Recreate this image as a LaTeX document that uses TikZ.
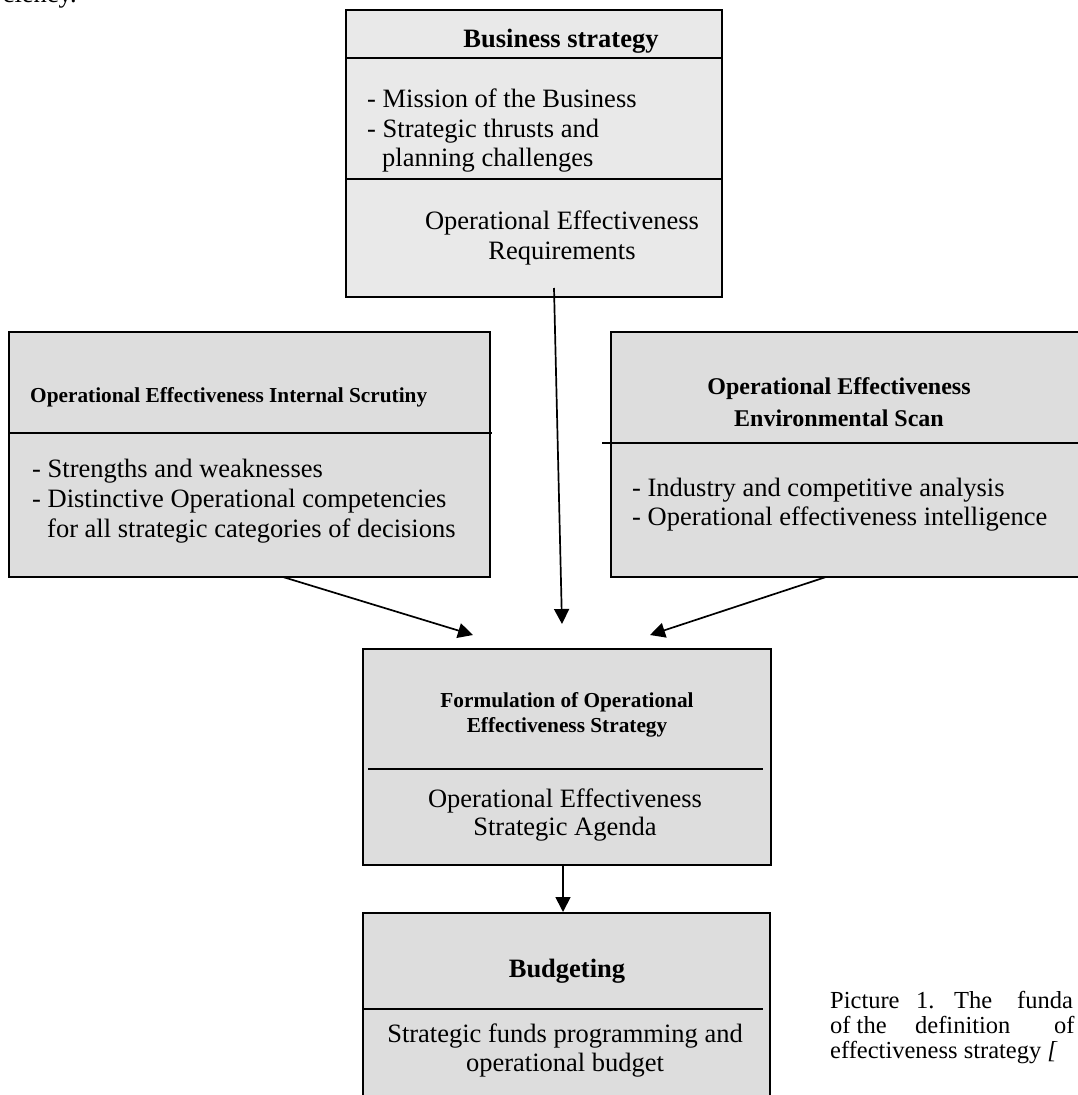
\documentclass[tikz,border=0pt]{standalone}
\usepackage{fontspec}
\setmainfont{Liberation Serif}
\usetikzlibrary{arrows.meta}

\definecolor{boxgray}{HTML}{DDDDDD}
\definecolor{topgray}{HTML}{E9E9E9}

\begin{document}
\begin{tikzpicture}[x=1pt,y=-1pt,
  panel/.style={draw=black, line width=1.8pt, fill=boxgray, inner sep=0pt, outer sep=0pt, anchor=north west},
  rule/.style={line width=1.5pt},
  flow/.style={line width=1.7pt, -{Triangle[length=15pt,width=15pt]}},
  body/.style={font=\fontsize{26.5}{30}\selectfont, inner sep=0pt},
  head/.style={font=\fontsize{26.5}{30}\selectfont\bfseries, inner sep=0pt},
  midhead/.style={font=\fontsize{24}{28}\selectfont\bfseries, inner sep=0pt},
  smallhead/.style={font=\fontsize{21.3}{25}\selectfont\bfseries, inner sep=0pt},
  caption/.style={font=\fontsize{24.5}{28}\selectfont, inner sep=0pt, anchor=base west}
]
\useasboundingbox (0,0) rectangle (1078,1095);
\clip (0,0) rectangle (1078,1095);

% tail of the preceding paragraph
\node[body, anchor=base east] (prev) at (77,2.5) {ciency.};

% ---- Business strategy ----
\node[panel, fill=topgray, minimum width=376pt, minimum height=287pt] (bs) at (346,10) {};
\draw[rule] (346,58) -- (722,58);
\draw[rule] (346,179) -- (722,179);
\node[head, anchor=base] (bsT) at (561,47) {Business strategy};
\node[body, anchor=base west] (bs1) at (367,107) {- Mission of the Business};
\node[body, anchor=base west] (bs2) at (367,137) {- Strategic thrusts and};
\node[body, anchor=base west] (bs3) at (382,166) {planning challenges};
\node[body, anchor=base] (bsR1) at (562,229) {Operational Effectiveness};
\node[body, anchor=base] (bsR2) at (562,259) {Requirements};

% ---- Internal scrutiny ----
\node[panel, minimum width=481pt, minimum height=245pt] (ins) at (9,332) {};
\draw[rule] (9,433) -- (492,433);
\node[smallhead, anchor=base west] (insT) at (30,402) {Operational Effectiveness Internal Scrutiny};
\node[body, anchor=base west] (ins1) at (32,477) {- Strengths and weaknesses};
\node[body, anchor=base west] (ins2) at (32,507) {- Distinctive Operational competencies};
\node[body, anchor=base west] (ins3) at (47,537) {for all strategic categories of decisions};

% ---- Environmental scan ----
\node[panel, minimum width=480pt, minimum height=245pt] (env) at (611,332) {};
\draw[rule] (602,443) -- (1078,443);
\node[midhead, anchor=base] (envT1) at (839,394) {Operational Effectiveness};
\node[midhead, anchor=base] (envT2) at (839,426) {Environmental Scan};
\node[body, anchor=base west] (env1) at (632,496) {- Industry and competitive analysis};
\node[body, anchor=base west] (env2) at (632,525) {- Operational effectiveness intelligence};

% ---- Formulation ----
\node[panel, minimum width=408pt, minimum height=216pt] (frm) at (363,649) {};
\draw[rule] (368,769) -- (763,769);
\node[smallhead, anchor=base] (frmT1) at (567,707) {Formulation of Operational};
\node[smallhead, anchor=base] (frmT2) at (567,732) {Effectiveness Strategy};
\node[body, anchor=base] (frm1) at (565,807) {Operational Effectiveness};
\node[body, anchor=base] (frm2) at (565,835) {Strategic Agenda};

% ---- Budgeting ----
\node[panel, minimum width=407pt, minimum height=200pt] (bud) at (363,913) {};
\draw[rule] (363,1009) -- (763,1009);
\node[head, anchor=base] (budT) at (567,977) {Budgeting};
\node[body, anchor=base] (bud1) at (565,1042) {Strategic funds programming and};
\node[body, anchor=base] (bud2) at (565,1071) {operational budget};

% ---- connector ends ----
\coordinate (bsOut)  at (554,288);
\coordinate (insOut) at (283,577);
\coordinate (envOut) at (826,577);
\coordinate (frmInL) at (473,635);
\coordinate (frmInM) at (562,624);
\coordinate (frmInR) at (650,635);
\coordinate (frmOut) at (563,865);
\coordinate (budIn)  at (563,912);

\draw[flow] (bsOut) -- (frmInM);
\draw[flow] (insOut) -- (frmInL);
\draw[flow] (envOut) -- (frmInR);
\draw[flow] (frmOut) -- (budIn);

% ---- caption ----
\node[caption] (c1a) at (830,1008) {Picture};
\node[caption] (c1b) at (916,1008) {1.};
\node[caption] (c1c) at (954,1008) {The};
\node[caption] (c1d) at (1017,1008) {funda};
\node[caption] (c2a) at (830,1033) {of the};
\node[caption] (c2b) at (915,1033) {definition};
\node[caption] (c2c) at (1054,1033) {of};
\node[caption] (c3a) at (830,1058) {effectiveness strategy \textit{[}};
\end{tikzpicture}
\end{document}
